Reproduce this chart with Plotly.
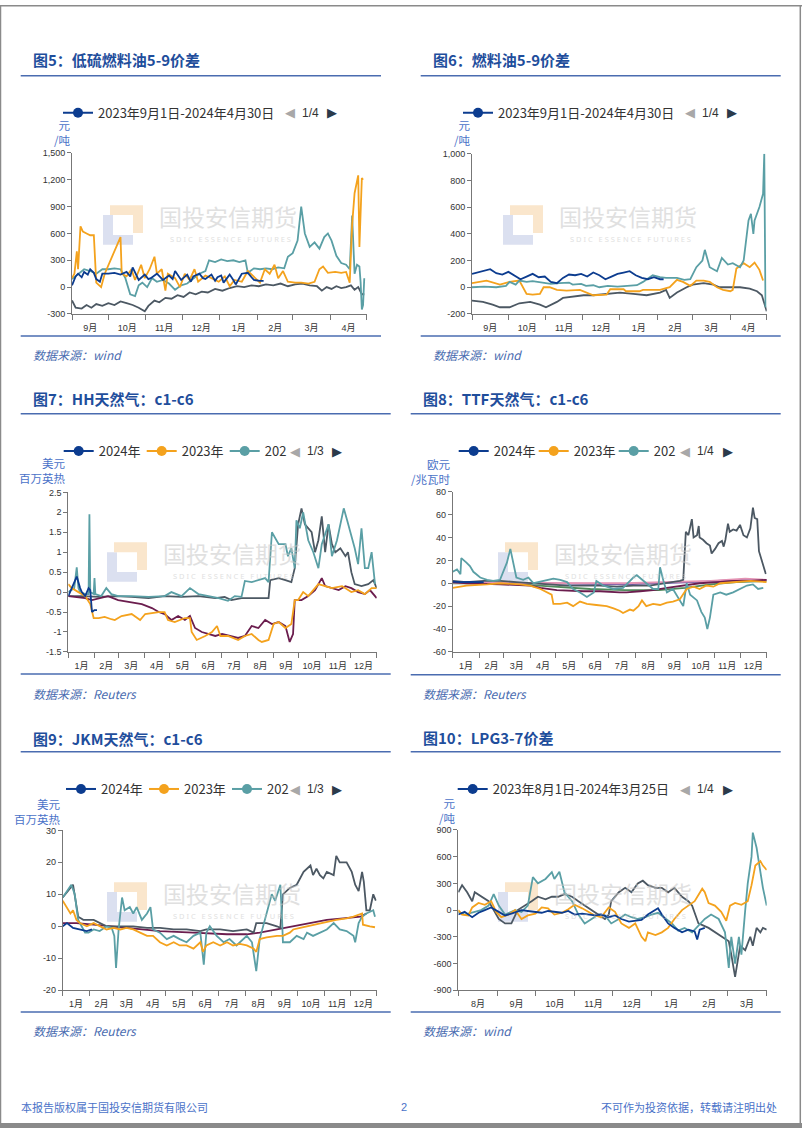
import pandas as pd
import plotly.graph_objects as go

W, H = 802, 1133

# ================= DATA =================
# Each series: list of (day offset from panel start, value)

# ---- 图5 低硫燃料油5-9价差 (元/吨), start 2023-09-01 ----
p1_blue = [(0,20),(3,120),(5,150),(8,110),(10,170),(13,140),(15,200),(18,160),(20,90),(23,60),
           (25,150),(30,150),(35,160),(40,140),(45,170),(48,120),(50,220),(53,130),(55,80),(60,140),
           (63,90),(65,100),(70,150),(73,110),(75,80),(80,130),(83,90),(85,180),(88,120),(90,80),
           (95,140),(98,60),(100,120),(105,150),(108,100),(110,90),(115,140),(118,70),(120,110),(123,130),
           (125,50),(130,140),(133,80),(135,30),(140,150),(145,160),(148,110),(150,80),(155,70),(158,70)]
p1_orange = [(0,100),(2,150),(4,400),(5,200),(7,680),(9,620),(12,600),(15,580),(18,580),(20,50),
             (24,0),(27,150),(40,560),(41,150),(45,120),(49,200),(52,80),(57,250),(60,100),(64,200),
             (68,340),(70,150),(74,200),(77,-40),(79,150),(85,100),(89,0),(93,150),(97,80),(101,200),
             (104,60),(110,130),(115,100),(121,60),(126,120),(130,10),(134,80),(140,60),(145,180),(151,100),
             (155,50),(159,200),(163,150),(167,250),(170,100),(174,180),(178,60),(184,50),(189,50),(195,40),
             (200,60),(204,200),(207,230),(211,160),(217,170),(222,160),(226,170),(229,50),(231,700),(233,1050),
             (236,1250),(237,450),(239,1220),(240,1200)]
p1_teal = [(0,90),(5,150),(10,200),(15,180),(20,150),(25,200),(30,200),(35,210),(40,200),(44,100),
           (48,-80),(52,-100),(55,20),(58,50),(62,0),(66,100),(70,60),(75,80),(80,40),(85,-30),
           (90,20),(95,40),(100,100),(105,150),(110,180),(113,300),(118,280),(123,310),(128,290),(133,300),
           (138,280),(143,300),(145,160),(150,210),(155,200),(160,210),(165,200),(170,220),(175,210),(178,340),
           (182,380),(186,520),(189,900),(192,600),(196,450),(200,500),(204,430),(208,560),(211,600),(214,520),
           (218,350),(222,270),(226,250),(229,200),(231,800),(233,150),(235,250),(237,230),(238,50),(239,-250),
           (240,-200),(241,100)]
p1_gray = [(0,-150),(3,-230),(8,-240),(12,-200),(16,-230),(20,-190),(25,-210),(30,-180),(35,-200),(40,-160),
           (45,-180),(50,-200),(55,-230),(60,-270),(63,-210),(68,-150),(72,-170),(77,-120),(82,-130),(87,-90),
           (92,-110),(97,-60),(102,-80),(107,-50),(112,-60),(118,-20),(124,-40),(130,-10),(136,10),(142,0),
           (148,20),(154,10),(160,30),(166,20),(172,40),(178,10),(184,30),(190,40),(196,20),(202,10),
           (206,-40),(210,0),(214,-20),(218,10),(222,-10),(226,0),(230,20),(233,-30),(236,0),(239,-80),(241,-80)]

# ---- 图6 燃料油5-9价差 (元/吨), start 2023-09-01 ----
p2_blue = [(0,100),(5,110),(10,120),(15,135),(20,105),(25,95),(30,115),(35,90),(40,60),(45,80),
           (50,100),(55,75),(60,80),(65,40),(70,30),(75,70),(80,95),(85,90),(90,100),(95,80),
           (100,110),(105,90),(110,60),(115,80),(120,100),(125,110),(130,120),(135,90),(140,70),(145,60),
           (150,75),(155,60),(158,60)]
p2_orange = [(0,30),(6,40),(12,50),(23,20),(31,40),(39,50),(41,20),(45,-50),(50,-55),(56,-50),
             (59,0),(64,0),(70,-20),(78,-25),(89,-20),(94,-40),(100,-60),(111,-55),(114,-15),(125,-15),
             (127,-30),(138,-30),(141,-20),(155,-20),(160,-10),(163,0),(169,55),(174,40),(180,10),(185,50),
             (191,50),(196,40),(202,0),(207,-20),(213,-30),(215,-20),(218,140),(224,180),(229,150),(233,185),
             (237,130),(240,50)]
p2_teal = [(0,0),(10,5),(20,0),(28,10),(31,40),(36,20),(39,50),(45,40),(50,45),(59,30),
           (65,25),(72,30),(80,35),(83,20),(90,25),(94,10),(100,15),(105,0),(112,10),(120,5),
           (130,10),(136,15),(141,40),(149,90),(155,75),(160,70),(169,70),(175,55),(180,60),(185,150),
           (190,200),(192,280),(196,150),(202,120),(206,220),(211,170),(215,180),(221,150),(224,200),(228,500),
           (230,550),(232,400),(233,500),(237,600),(240,700),(241,1000),(242,-150)]
p2_gray = [(0,-100),(9,-110),(17,-130),(23,-150),(31,-150),(39,-120),(48,-110),(56,-130),(61,-150),(70,-110),
           (75,-80),(83,-70),(92,-60),(100,-60),(111,-50),(122,-40),(133,-50),(144,-60),(155,-40),(160,-20),
           (163,-80),(169,-40),(177,0),(182,20),(191,30),(199,20),(204,0),(213,0),(221,0),(229,-10),
           (235,-30),(239,-60),(243,-180)]

# ---- 图7 HH天然气 c1-c6 (美元/百万英热), start Jan 1 ----
p3_2024 = [(0,-0.1),(6,0.2),(10,0.39),(14,0.1),(16,0.0),(20,-0.1),(24,0.1),(26,0.05),(28,-0.5),(31,-0.45),(34,-0.45)]
p3_2023 = [(0,0.2),(4,0.1),(12,0.0),(20,-0.1),(26,-0.3),(30,-0.65),(36,-0.65),(43,-0.62),(51,-0.68),(55,-0.7),
           (63,-0.6),(75,-0.55),(85,-0.7),(91,-0.55),(107,-0.5),(114,-0.5),(118,-0.7),(126,-0.75),(138,-0.65),(144,-0.65),
           (146,-1.0),(152,-1.2),(162,-1.1),(170,-1.0),(176,-0.85),(180,-1.1),(189,-1.1),(201,-1.2),(209,-1.1),(217,-1.05),
           (225,-1.2),(229,-1.25),(237,-1.2),(243,-0.8),(249,-0.75),(257,-0.9),(264,-0.8),(268,-0.2),(272,-0.2),(278,0.0),
           (284,-0.1),(296,0.2),(304,0.15),(312,0.1),(324,0.15),(335,0.0),(343,0.05),(351,-0.05),(359,0.1),(365,0.1)]
p3_2022 = [(0,0.0),(7,0.1),(10,0.62),(12,0.1),(14,0.0),(20,-0.05),(24,-0.05),(25,1.95),(26,0.0),(30,-0.05),
           (31,0.35),(32,-0.05),(39,-0.1),(45,0.1),(51,-0.05),(59,-0.1),(75,-0.1),(95,-0.12),(114,-0.1),(122,0.0),
           (134,-0.1),(144,0.1),(154,-0.05),(166,-0.1),(178,-0.15),(189,-0.22),(197,-0.1),(205,-0.12),(209,0.28),(217,0.25),
           (225,0.3),(233,0.35),(237,0.25),(241,1.5),(249,1.2),(257,1.2),(260,0.9),(264,1.1),(268,0.6),(270,1.8),
           (274,1.6),(278,2.0),(284,1.3),(290,1.0),(296,0.6),(300,1.2),(308,1.7),(312,0.9),(318,1.3),(326,2.1),
           (330,1.8),(335,1.4),(339,1.1),(343,0.7),(347,1.6),(351,0.6),(355,0.6),(359,1.0),(363,0.2)]
p3_2021 = [(0,-0.1),(16,-0.1),(36,-0.12),(55,-0.1),(75,-0.12),(95,-0.15),(114,-0.1),(134,-0.12),(154,-0.1),(174,-0.15),
           (185,-0.12),(193,-0.2),(205,-0.15),(217,-0.15),(233,-0.15),(237,-0.15),(239,0.3),(249,0.35),(257,0.3),(264,0.25),
           (268,0.6),(272,1.7),(276,2.1),(280,1.7),(288,1.5),(292,1.0),(296,1.3),(300,1.9),(304,1.0),(308,1.7),
           (312,1.2),(316,1.0),(322,1.1),(328,0.9),(331,1.0),(335,0.5),(339,0.2),(347,0.15),(355,0.2),(361,0.3),(365,0.1)]
p3_2020 = [(0,-0.1),(12,-0.12),(20,-0.15),(28,-0.2),(39,-0.15),(47,-0.1),(59,-0.2),(75,-0.25),(87,-0.3),(99,-0.4),
           (107,-0.5),(114,-0.55),(122,-0.7),(130,-0.6),(138,-0.7),(144,-0.6),(150,-0.9),(158,-1.0),(166,-1.05),(174,-1.1),
           (182,-1.05),(193,-1.1),(201,-1.15),(209,-1.1),(217,-0.85),(225,-0.9),(233,-0.7),(241,-0.8),(249,-0.75),(257,-0.85),
           (262,-1.25),(266,-1.05),(268,-0.2),(276,-0.2),(284,-0.1),(292,0.05),(300,0.35),(304,0.15),(312,0.1),(320,0.05),
           (328,0.15),(335,0.1),(343,0.0),(351,-0.05),(357,0.05),(365,-0.15)]

# ---- 图8 TTF天然气 c1-c6 (欧元/兆瓦时), start Jan 1 ----
p4_2024 = [(0,1.5),(10,1.0),(20,1.2),(30,0.8),(36,1.0)]
p4_2023 = [(0,-4),(16,-2),(40,-1),(55,0),(78,-1),(90,-2),(102,-5),(109,-8),(115,-10),(117,-18),
           (125,-18),(133,-17),(140,-20),(148,-16),(156,-18),(167,-19),(179,-20),(187,-22),(194,-24),(198,-26),
           (206,-23),(210,-24),(216,-20),(220,-15),(225,-20),(233,-18),(241,-19),(249,-17),(256,-16),(264,-14),
           (268,-10),(272,-5),(280,-3),(287,-5),(295,-2),(303,-3),(311,0),(326,1),(346,2),(365,1)]
p4_2022 = [(0,10),(5,12),(9,8),(10,22),(16,18),(20,15),(24,10),(32,5),(40,3),(47,2),
           (55,3),(59,10),(63,18),(67,30),(71,15),(74,5),(82,3),(88,5),(94,0),(105,2),
           (117,4),(125,3),(133,1),(140,-5),(148,-8),(156,-12),(164,-8),(167,2),(175,-2),(187,-5),
           (198,-4),(210,5),(214,7),(222,2),(233,-5),(239,-5),(241,14),(245,2),(249,-8),(256,-5),
           (264,-15),(268,-20),(272,0),(276,-10),(284,-15),(289,-25),(293,-30),(296,-40),(299,-30),(303,-10),
           (311,-8),(318,-10),(326,-8),(334,-5),(342,-2),(349,-1),(355,-5),(361,-4)]
p4_2021 = [(0,2),(16,1),(36,2),(55,2),(74,1),(94,0),(113,-1),(133,-2),(152,-2),(171,-2),
           (191,-3),(210,-2),(229,-2),(249,0),(264,2),(268,3),(271,45),(274,42),(278,56),(280,40),
           (284,42),(286,50),(287,40),(291,38),(295,35),(299,33),(301,26),(305,30),(309,35),(313,37),
           (315,32),(317,38),(320,52),(322,45),(326,47),(330,46),(334,51),(338,42),(342,40),(346,48),
           (349,66),(351,57),(354,56),(356,28),(359,20),(362,12),(364,8)]
p4_2020 = [(0,1),(16,0),(55,-1),(90,-2),(102,-4),(121,-6),(152,-7),(171,-7),(194,-8),(202,-8),
           (218,-7),(233,-6),(249,-4),(268,-2),(287,0),(307,1),(326,2),(346,2),(365,3)]
p4_2019 = [(0,0),(60,0),(100,-2),(140,-4),(160,-5),(200,-6),(240,-6),(270,-4),(300,-1),(330,1),(365,2)]
p4_2018 = [(0,1),(100,0),(200,-1),(280,1),(300,2),(330,3),(365,3)]
p4_2017 = [(0,0.5),(200,0),(300,2),(340,4),(365,3)]

# ---- 图9 JKM天然气 c1-c6 (美元/百万英热), start Jan 1 ----
p5_2024 = [(0,0),(5,1),(12,-0.5),(20,-1),(28,-1.5),(34,-1)]
p5_2023 = [(0,8),(5,6),(9,4),(12,5),(16,2),(20,1),(28,0),(36,1),(43,0),(51,-1),
           (59,-0.5),(67,-1),(74,-0.5),(82,-1),(90,-2),(98,-3),(105,-3),(113,-5),(121,-6),(129,-5),
           (136,-6),(144,-6),(152,-7),(160,-5),(163,-8),(167,-6),(175,-5),(183,-6),(191,-5),(198,-6),
           (206,-5.5),(214,-6),(222,-7),(225,-8),(229,-4),(237,-3.5),(249,-3),(256,-3),(264,-2),(268,-1),
           (276,-0.5),(284,0),(291,0.5),(299,1),(307,1.5),(318,2),(330,2.5),(338,3),(348,4),(349,0.5),
           (357,0),(363,-0.3)]
p5_2022 = [(0,9),(7,12),(10,13),(14,10),(18,2),(22,0),(26,-2),(30,-2),(36,-1),(43,-1.5),
           (51,0),(57,-0.5),(60,-3),(62,-13),(65,-1),(69,9),(72,5),(78,6),(82,4),(86,6),
           (92,2),(98,4),(102,6),(105,-1),(113,-2),(121,-4),(129,-3),(136,-4),(144,-5),(152,-3),
           (160,-2),(164,-12),(167,-2),(171,0),(179,-3),(187,-5),(194,-4),(202,-6),(206,-5),(214,-3),
           (220,-5),(225,-14),(229,-4),(233,0),(243,10),(247,8),(253,13),(255,2),(256,-5),(264,-5),
           (272,-3),(280,-4),(284,-2),(291,-3),(299,-2),(307,-1),(315,1),(322,-1),(330,-1.5),(338,-3),
           (340,-5),(344,1),(348,3),(353,4),(361,5),(363,3)]
p5_2021 = [(0,9),(9,12),(12,13),(18,3),(24,2),(36,2),(43,1),(51,0),(67,0),(82,0),
           (98,-0.5),(113,-0.5),(129,-1),(144,-1),(160,-1.5),(167,-1),(183,-1),(198,-1.5),(214,-1),(222,-2),
           (225,1),(237,1),(249,0),(253,-0.5),(256,10),(264,12),(272,13),(280,17),(288,19),(291,16),
           (295,18),(299,16),(303,15),(307,17),(315,16),(318,22),(322,20),(330,20),(336,17),(340,13),
           (344,11),(348,17),(350,14),(353,5),(357,5),(361,10),(364,8)]
p5_2020 = [(0,1),(16,1),(36,0.5),(55,0),(74,-0.5),(94,-1),(113,-1.5),(152,-2),(191,-2.5),(214,-2.5),
           (229,-2),(249,-1),(268,0),(288,1),(307,2),(326,2.5),(346,3),(353,4)]

# ---- 图10 LPG3-7价差 (元/吨), start 2023-08-01 ----
p6_blue = [(0,-50),(5,-20),(11,-80),(16,-30),(21,0),(26,30),(32,-20),(37,-60),(42,-40),(50,0),
           (55,-10),(61,-20),(66,-30),(71,-10),(76,-20),(82,-30),(87,-10),(92,-50),(98,-40),(103,-50),
           (108,-60),(113,-50),(119,-80),(124,-60),(129,-100),(135,-130),(140,-120),(145,-110),(150,-50),(156,0),
           (158,20),(161,-50),(166,-150),(171,-200),(177,-250),(182,-220),(187,-240),(189,-330),(191,-220),(195,-200)]
p6_orange = [(0,0),(3,-50),(8,-60),(11,30),(16,80),(21,60),(26,100),(30,-20),(34,-80),(40,-50),
             (45,0),(50,-100),(55,-60),(61,-40),(66,30),(71,20),(76,-50),(82,-30),(87,10),(92,60),
             (98,20),(103,-20),(108,-60),(113,-80),(119,30),(124,-20),(129,-150),(135,-200),(140,-150),(145,-300),
             (148,-350),(150,-250),(156,-280),(161,-250),(166,-200),(171,-100),(177,0),(182,50),(187,100),(193,240),
             (195,200),(198,80),(203,50),(208,-20),(212,-120),(215,50),(219,80),(224,60),(229,100),(232,280),
             (235,500),(239,550),(241,500),(244,450)]
p6_teal = [(0,-20),(5,-50),(13,-20),(18,0),(24,50),(28,180),(32,50),(37,-50),(45,0),(50,-20),
           (55,50),(59,370),(63,300),(69,350),(74,425),(76,350),(80,430),(84,200),(90,100),(95,-50),
           (100,-150),(106,-100),(111,-50),(116,-60),(121,-150),(127,-100),(132,-50),(137,-80),(142,-100),(148,-80),
           (153,-50),(158,-30),(164,-100),(169,-150),(174,-230),(179,-200),(185,-250),(190,-170),(195,-100),(200,-50),
           (206,-100),(211,-250),(214,-650),(216,-300),(219,-600),(222,-300),(224,-500),(227,0),(229,300),(232,600),
           (233,870),(236,700),(239,400),(241,250),(244,50)]
p6_gray = [(0,200),(3,280),(7,200),(11,100),(13,200),(18,150),(24,100),(26,50),(32,-100),(37,-150),
           (42,-150),(47,0),(53,50),(58,100),(63,150),(69,120),(74,150),(79,150),(84,180),(90,150),
           (95,100),(100,50),(106,0),(111,-50),(116,-100),(119,-50),(121,100),(127,200),(132,250),(137,200),
           (142,300),(146,330),(150,280),(156,250),(161,250),(166,200),(171,250),(177,150),(182,100),(185,50),
           (190,-150),(198,-200),(203,-250),(208,-300),(214,-350),(216,-500),(219,-750),(223,-400),(227,-450),(231,-300),
           (233,-400),(236,-200),(239,-250),(241,-200),(244,-220)]

# ---- tick labels ----
p1_yticks = [-300, 0, 300, 600, 900, 1200, 1500]
p1_ylabels = ["-300", "0", "300", "600", "900", "1,200", "1,500"]
p2_yticks = [-200, 0, 200, 400, 600, 800, 1000]
p2_ylabels = ["-200", "0", "200", "400", "600", "800", "1,000"]
p3_yticks = [-1.5, -1, -0.5, 0, 0.5, 1, 1.5, 2, 2.5]
p3_ylabels = ["-1.5", "-1", "-0.5", "0", "0.5", "1", "1.5", "2", "2.5"]
p4_yticks = [-60, -40, -20, 0, 20, 40, 60, 80]
p4_ylabels = ["-60", "-40", "-20", "0", "20", "40", "60", "80"]
p5_yticks = [-20, -10, 0, 10, 20, 30]
p5_ylabels = ["-20", "-10", "0", "10", "20", "30"]
p6_yticks = [-900, -600, -300, 0, 300, 600, 900]
p6_ylabels = ["-900", "-600", "-300", "0", "300", "600", "900"]

# ================= STYLE =================
C_BLUE = "#0c3c8f"
C_ORANGE = "#f4a21d"
C_TEAL = "#5a9fa5"
C_GRAY = "#4c5863"
C_MAROON = "#6b1d4e"
C_GREEN = "#4f8a5b"
C_PURPLE = "#6f5aa8"
C_PINK = "#e493b3"
TITLE_C = "#1f4e9c"
RULE_C = "#4a6cb0"
SRC_C = "#4a6cb0"
UNIT_C = "#4a72c8"
CJK = "Noto Sans CJK SC"
TICKF = "Liberation Sans, Noto Sans CJK SC"


def px(x):
    return x / W


def py(y):
    return 1 - y / H


panels = [
    dict(xd=(72, 366.7), yd=(149.3, 311.7), start="2023-09-01", end="2024-05-01",
         yr=(-300, 1500), yt=p1_yticks, yl=p1_ylabels,
         series=[("2020-21", p1_gray, C_GRAY), ("2022-23", p1_teal, C_TEAL),
                 ("2021-22", p1_orange, C_ORANGE), ("2023年9月1日-2024年4月30日", p1_blue, C_BLUE)],
         legend=[("2023年9月1日-2024年4月30日", C_BLUE)], leg=(77, 108.7), entry=None,
         title="图5：低硫燃料油5-9价差", title_pos=(32, 55), rule=(20.7, 381, 71.3, 334),
         source="数据来源：wind", src_pos=(32, 353),
         unit="元<br>/吨", unit_pos=(72, 112), pager="1/4", pager_x=(290, 310.7, 332.3),
         wm=(228, 213)),
    dict(xd=(472, 766.7), yd=(150, 311.7), start="2023-09-01", end="2024-05-01",
         yr=(-200, 1000), yt=p2_yticks, yl=p2_ylabels,
         series=[("2020-21", p2_gray, C_GRAY), ("2021-22", p2_orange, C_ORANGE),
                 ("2022-23", p2_teal, C_TEAL), ("2023年9月1日-2024年4月30日", p2_blue, C_BLUE)],
         legend=[("2023年9月1日-2024年4月30日", C_BLUE)], leg=(477, 108.7), entry=None,
         title="图6：燃料油5-9价差", title_pos=(432, 55), rule=(420.7, 780.7, 71.3, 334),
         source="数据来源：wind", src_pos=(432, 353),
         unit="元<br>/吨", unit_pos=(472, 112), pager="1/4", pager_x=(690, 710.7, 732.3),
         wm=(628, 213)),
    dict(xd=(68.3, 376.7), yd=(491.7, 652.7), start="2023-01-01", end="2024-01-01",
         yr=(-1.5, 2.5), yt=p3_yticks, yl=p3_ylabels,
         series=[("2021年", p3_2021, C_GRAY), ("2022年", p3_2022, C_TEAL), ("2020年", p3_2020, C_MAROON),
                 ("2023年", p3_2023, C_ORANGE), ("2024年", p3_2024, C_BLUE)],
         legend=[("2024年", C_BLUE), ("2023年", C_ORANGE), ("202", C_TEAL)], leg=(77.7, 450), entry=38,
         title="图7：HH天然气：c1-c6", title_pos=(32, 396.7), rule=(20.7, 390.7, 412.3, 675),
         source="数据来源：Reuters", src_pos=(32, 695),
         unit="美元<br>百万英热", unit_pos=(66.7, 453), pager="1/3", pager_x=(295, 315.7, 337.3),
         wm=(232, 553)),
    dict(xd=(452.7, 766.7), yd=(491, 652.7), start="2023-01-01", end="2024-01-01",
         yr=(-60, 80), yt=p4_yticks, yl=p4_ylabels,
         series=[("2019年", p4_2019, C_GREEN), ("2018年", p4_2018, C_PURPLE), ("2017年", p4_2017, C_PINK),
                 ("2020年", p4_2020, C_MAROON), ("2021年", p4_2021, C_GRAY), ("2022年", p4_2022, C_TEAL),
                 ("2023年", p4_2023, C_ORANGE), ("2024年", p4_2024, C_BLUE)],
         legend=[("2024年", C_BLUE), ("2023年", C_ORANGE), ("202", C_TEAL)], leg=(472.7, 450), entry=35,
         title="图8：TTF天然气：c1-c6", title_pos=(422, 396.7), rule=(410.7, 780.7, 412.3, 675.7),
         source="数据来源：Reuters", src_pos=(422, 695),
         unit="欧元<br>/兆瓦时", unit_pos=(451.7, 454), pager="1/4", pager_x=(685, 705.7, 727.7),
         wm=(623, 553)),
    dict(xd=(62.7, 376.7), yd=(832.7, 994), start="2023-01-01", end="2024-01-01",
         yr=(-20, 30), yt=p5_yticks, yl=p5_ylabels,
         series=[("2020年", p5_2020, C_MAROON), ("2021年", p5_2021, C_GRAY), ("2022年", p5_2022, C_TEAL),
                 ("2023年", p5_2023, C_ORANGE), ("2024年", p5_2024, C_BLUE)],
         legend=[("2024年", C_BLUE), ("2023年", C_ORANGE), ("202", C_TEAL)], leg=(80, 791), entry=38,
         title="图9：JKM天然气：c1-c6", title_pos=(32, 740), rule=(20.7, 390.7, 753.3, 1016),
         source="数据来源：Reuters", src_pos=(32, 1035),
         unit="美元<br>百万英热", unit_pos=(61.7, 797), pager="1/3", pager_x=(295, 315.7, 337.3),
         wm=(232, 896)),
    dict(xd=(458.3, 766.7), yd=(832.3, 994), start="2023-08-01", end="2024-04-01",
         yr=(-900, 900), yt=p6_yticks, yl=p6_ylabels,
         series=[("2021-22", p6_gray, C_GRAY), ("2022-23", p6_teal, C_TEAL),
                 ("2020-21", p6_orange, C_ORANGE), ("2023年8月1日-2024年3月25日", p6_blue, C_BLUE)],
         legend=[("2023年8月1日-2024年3月25日", C_BLUE)], leg=(471.7, 791), entry=None,
         title="图10：LPG3-7价差", title_pos=(422, 739), rule=(410.7, 780.7, 753.3, 1016),
         source="数据来源：wind", src_pos=(422, 1035),
         unit="元<br>/吨", unit_pos=(457, 796), pager="1/4", pager_x=(685, 705.7, 727.7),
         wm=(623, 896)),
]

fig = go.Figure()
annotations = []
shapes = []
layout = dict(width=W, height=H, autosize=False, margin=dict(l=0, r=0, t=0, b=0, pad=0),
              paper_bgcolor="white", plot_bgcolor="white", showlegend=True)


def ann(text, x, y, size, color, xanchor="left", family=CJK, yanchor="middle", align="left"):
    annotations.append(dict(text=text, x=px(x), y=py(y), xref="paper", yref="paper",
                            xanchor=xanchor, yanchor=yanchor, showarrow=False, align=align,
                            borderpad=0,
                            font=dict(size=size, color=color, family=family)))


for i, P in enumerate(panels, start=1):
    sfx = "" if i == 1 else str(i)
    xa, ya, lg = "x" + sfx, "y" + sfx, "legend" + sfx
    start = pd.Timestamp(P["start"])

    # watermark (behind lines)
    cx, cy = P["wm"]
    blue_L = [(cx - 125, cy - 1), (cx - 115, cy - 1), (cx - 115, cy + 19), (cx - 95, cy + 19),
              (cx - 95, cy + 29), (cx - 125, cy + 29)]
    orange_R = [(cx - 118, cy - 11), (cx - 85, cy - 11), (cx - 85, cy + 17), (cx - 95, cy + 17),
                (cx - 95, cy - 1), (cx - 118, cy - 1)]
    for poly, col in ((blue_L, "#dbe0f0"), (orange_R, "#fae6cc")):
        path = "M " + " L ".join(f"{px(a):.5f},{py(b):.5f}" for a, b in poly) + " Z"
        shapes.append(dict(type="path", path=path, xref="paper", yref="paper",
                           fillcolor=col, line=dict(width=0), layer="below"))
    annotations.append(dict(text="国投安信期货", x=px(cx), y=py(cy), xref="paper", yref="paper",
                            showarrow=False, xanchor="center", yanchor="middle", opacity=0.55,
                            font=dict(size=23, color="#c8c8c8", family=CJK)))
    annotations.append(dict(text="S D I C &nbsp; E S S E N C E &nbsp; F U T U R E S", x=px(cx + 2),
                            y=py(cy + 23), xref="paper", yref="paper", showarrow=False,
                            xanchor="center", yanchor="middle", opacity=0.55,
                            font=dict(size=7.5, color="#c8c8c8", family="Noto Sans")))

    for name, pairs, color in P["series"]:
        days = [d for d, v in pairs]
        vals = [v for d, v in pairs]
        dates = start + pd.to_timedelta(days, unit="D")
        fig.add_trace(go.Scatter(x=dates, y=vals, mode="lines", name=name,
                                 line=dict(color=color, width=1.8), showlegend=False,
                                 xaxis=xa, yaxis=ya))
    for name, color in P["legend"]:
        fig.add_trace(go.Scatter(x=[None], y=[None], mode="lines+markers", name=name,
                                 line=dict(color=color, width=2), marker=dict(size=10, color=color),
                                 legend=lg, xaxis=xa, yaxis=ya))

    lx, ly = P["leg"]
    legd = dict(x=px(lx - 19), y=py(ly), xanchor="left", yanchor="middle", orientation="h",
                font=dict(size=13, color="#333333", family=CJK), bgcolor="rgba(0,0,0,0)",
                itemwidth=30, tracegroupgap=0, itemclick=False, itemdoubleclick=False)
    if P["entry"]:
        legd.update(entrywidth=P["entry"], entrywidthmode="pixels")
    layout[lg] = legd

    x0, x1 = P["xd"]
    y0, y1 = P["yd"]
    layout["xaxis" + sfx] = dict(domain=[px(x0), px(x1)], anchor=ya, type="date",
                                 range=[P["start"], P["end"]], dtick="M1", tick0=P["start"],
                                 ticklabelmode="period", tickformat="%-m月",
                                 ticks="outside", ticklen=5, tickcolor="#777777",
                                 showline=True, linecolor="#777777", linewidth=1,
                                 showgrid=False, zeroline=False,
                                 tickfont=dict(size=9, color="#333333", family=TICKF))
    layout["yaxis" + sfx] = dict(domain=[py(y1), py(y0)], anchor=xa, range=list(P["yr"]),
                                 tickvals=P["yt"], ticktext=P["yl"],
                                 ticks="outside", ticklen=4, tickcolor="#777777",
                                 showline=True, linecolor="#777777", linewidth=1,
                                 showgrid=False, zeroline=False,
                                 tickfont=dict(size=9, color="#333333", family=TICKF))

    # title, rules, source
    tx, tyy = P["title_pos"]
    ann("<b>" + P["title"] + "</b>", tx, tyy, 15, TITLE_C)
    rx0, rx1, rt, rb = P["rule"]
    for yy in (rt, rb):
        shapes.append(dict(type="line", xref="paper", yref="paper", x0=px(rx0), x1=px(rx1),
                           y0=py(yy), y1=py(yy), line=dict(color=RULE_C, width=1.5)))
    sx, sy = P["src_pos"]
    ann("<i>" + P["source"] + "</i>", sx, sy, 12, SRC_C)

    # unit label (two lines, right aligned at the y axis)
    ux, uy = P["unit_pos"]
    ann(P["unit"], ux, uy, 11.5, UNIT_C, xanchor="right", yanchor="top", align="right")

    # legend pager
    a1, a2, a3 = P["pager_x"]
    ann("◀", a1, ly, 13, "#a8a8a8", xanchor="center", family="DejaVu Sans")
    ann(P["pager"], a2, ly, 12, "#333333", xanchor="center", family="Liberation Sans")
    ann("▶", a3, ly, 13, "#2b3a4a", xanchor="center", family="DejaVu Sans")

# footer
ann("本报告版权属于国投安信期货有限公司", 20, 1112, 11, "#4a72c8")
ann("2", 404, 1112, 11, "#4a72c8", xanchor="center", family="Liberation Sans")
ann("不可作为投资依据，转载请注明出处", 778, 1112, 11, "#4a72c8", xanchor="right")

# page border
shapes.append(dict(type="line", xref="paper", yref="paper", x0=px(0.5), x1=px(0.5), y0=0, y1=1,
                   line=dict(color="#8a8a8a", width=1.5)))
shapes.append(dict(type="line", xref="paper", yref="paper", x0=0, x1=1, y0=py(0.7), y1=py(0.7),
                   line=dict(color="#8a8a8a", width=1.5)))
shapes.append(dict(type="line", xref="paper", yref="paper", x0=px(800.3), x1=px(800.3), y0=0, y1=1,
                   line=dict(color="#8a8a8a", width=1.5)))
shapes.append(dict(type="rect", xref="paper", yref="paper", x0=0, x1=1, y0=0, y1=py(1128),
                   fillcolor="#8a8a8a", line=dict(width=0)))

layout["annotations"] = annotations
layout["shapes"] = shapes
fig.update_layout(**layout)
fig.write_html("out.html", config={"displayModeBar": False},
               post_script="document.body.style.margin='0';document.body.style.overflow='hidden';")
